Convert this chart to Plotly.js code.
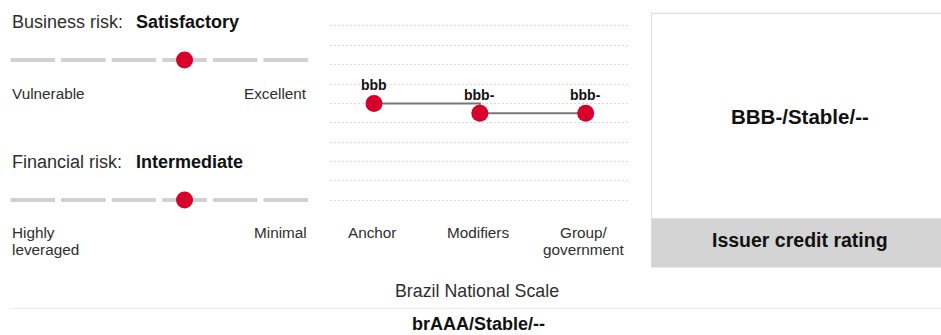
<!DOCTYPE html>
<html>
<head>
<meta charset="utf-8">
<script src="https://cdn.plot.ly/plotly-3.0.1.min.js"></script>
<style>
  html, body { margin: 0; padding: 0; background: #ffffff; }
  #chart { width: 941px; height: 335px; }
</style>
</head>
<body>
<div id="chart"></div>
<script>
// Assessment scales (low to high) and the assessed positions
const businessScale = ['Vulnerable', 'Weak', 'Fair', 'Satisfactory', 'Strong', 'Excellent'];
const businessRisk = 'Satisfactory';
const financialScale = ['Highly<br>leveraged', 'Aggressive', 'Significant', 'Intermediate', 'Modest', 'Minimal'];
const financialRisk = 'Intermediate';

// Rating build-up: anchor -> modifiers -> group/government
const steps = ['Anchor', 'Modifiers', 'Group/<br>government'];
const stepRatings = ['bbb', 'bbb-', 'bbb-'];
const stepLevels = [6, 5.5, 5.5];

// Outcome texts
const issuerRating = 'BBB-/Stable/--';
const issuerCaption = 'Issuer credit rating';
const nationalScaleTitle = 'Brazil National Scale';
const nationalRating = 'brAAA/Stable/--';

const W = 941, H = 335;
const X = px => px / W;
const Y = py => 1 - py / H;

const FONT = 'Liberation Sans, Arial, sans-serif';
const RED = '#d6002b';
const TRACK = '#d1d1d4';
const TXT = '#2e2e2e';
const BOLD = '#111111';

function label(text, px, py, opts) {
  return Object.assign({
    text: text, xref: 'paper', yref: 'paper', x: X(px), y: Y(py),
    xanchor: 'left', yanchor: 'middle', showarrow: false,
    font: { family: FONT, size: 15, color: TXT }
  }, opts || {});
}

// Multi-line label placed one annotation per line
function lines(text, xref, x, firstPy, lineGap, opts) {
  return text.split('<br>').map((t, i) => Object.assign({
    text: t, xref: xref, yref: 'paper', x: x, y: Y(firstPy + i * lineGap),
    yanchor: 'middle', showarrow: false,
    font: { family: FONT, size: 15.3, color: TXT }
  }, opts || {}));
}

// Dashed track segments, one per scale step
function track(scale, xref, yref) {
  return scale.map((_, i) => ({
    type: 'line', xref: xref, yref: yref, layer: 'below',
    x0: i - 0.44, x1: i + 0.44, y0: 0.5, y1: 0.5,
    line: { color: TRACK, width: 4 }
  }));
}

const traces = [
  {
    x: [businessRisk], y: [0.5], xaxis: 'x', yaxis: 'y',
    type: 'scatter', mode: 'markers',
    marker: { color: RED, size: 17, line: { width: 0 } }
  },
  {
    x: [financialRisk], y: [0.5], xaxis: 'x2', yaxis: 'y2',
    type: 'scatter', mode: 'markers',
    marker: { color: RED, size: 17, line: { width: 0 } }
  },
  {
    x: steps, y: stepLevels, xaxis: 'x3', yaxis: 'y3',
    type: 'scatter', mode: 'lines+markers',
    line: { color: '#777777', width: 2, shape: 'hv' },
    marker: { color: RED, size: 17, line: { width: 0 } },
    cliponaxis: false
  }
];

const hidden = { visible: false, fixedrange: true };

const shapes = []
  .concat(track(businessScale, 'x', 'y'))
  .concat(track(financialScale, 'x2', 'y2'))
  .concat([
    // Issuer credit rating panel
    { type: 'rect', xref: 'paper', yref: 'paper', layer: 'below',
      x0: X(651.5), x1: X(945), y0: Y(267), y1: Y(13.3),
      line: { color: '#e0e0e0', width: 1.2 }, fillcolor: '#ffffff' },
    { type: 'rect', xref: 'paper', yref: 'paper', layer: 'below',
      x0: X(651.5), x1: X(945), y0: Y(267.3), y1: Y(218.3),
      line: { width: 0 }, fillcolor: '#d4d4d4' },
    // Separator above the national scale rating
    { type: 'line', xref: 'paper', yref: 'paper',
      x0: X(10), x1: X(941), y0: Y(308.3), y1: Y(308.3),
      line: { color: '#e8e8e8', width: 1 } }
  ]);

// Rating labels above each step marker
const ratingLabels = steps.map((s, i) => ({
  text: stepRatings[i], xref: 'x3', yref: 'y3', x: s, y: stepLevels[i],
  xanchor: 'center', yanchor: 'middle', yshift: 18.2, showarrow: false,
  font: { family: FONT, size: 14, color: BOLD, weight: 700 }
}));

const annotations = [
  label('Business risk:', 10, 21.8, { font: { family: FONT, size: 18, color: TXT } }),
  label(businessRisk, 134, 21.8, { font: { family: FONT, size: 18, color: BOLD, weight: 700 } }),
  label(businessScale[0], 10, 93, { font: { family: FONT, size: 15.3, color: TXT } }),
  label(businessScale[businessScale.length - 1], 308.5, 93, { xanchor: 'right', font: { family: FONT, size: 15.3, color: TXT } }),

  label('Financial risk:', 10, 162, { font: { family: FONT, size: 18, color: TXT } }),
  label(financialRisk, 134, 162, { font: { family: FONT, size: 18, color: BOLD, weight: 700 } }),
  label(financialScale[financialScale.length - 1], 308.5, 232, { xanchor: 'right', font: { family: FONT, size: 15.3, color: TXT } })
]
  .concat(lines(financialScale[0], 'paper', X(10), 232, 17, { xanchor: 'left' }))
  .concat(steps.flatMap(s => lines(s, 'x3', s, 232, 17, { xanchor: 'center', xshift: -2 })))
  .concat(ratingLabels)
  .concat([
    label(issuerRating, 800, 116.2, { xanchor: 'center', font: { family: FONT, size: 20.5, color: BOLD, weight: 700 } }),
    label(issuerCaption, 799.5, 240.3, { xanchor: 'center', font: { family: FONT, size: 19.5, color: BOLD, weight: 700 } }),
    label(nationalScaleTitle, 476.5, 290.6, { xanchor: 'center', font: { family: FONT, size: 17.8, color: TXT } }),
    label(nationalRating, 478, 323.8, { xanchor: 'center', font: { family: FONT, size: 18, color: BOLD, weight: 700 } })
  ]);

const layout = {
  width: W, height: H,
  margin: { l: 0, r: 0, t: 0, b: 0, pad: 0 },
  paper_bgcolor: '#ffffff', plot_bgcolor: 'rgba(0,0,0,0)',
  showlegend: false,
  font: { family: FONT, color: TXT },

  xaxis: Object.assign({ type: 'category', categoryarray: businessScale, categoryorder: 'array',
    domain: [X(10), X(308.5)], range: [-0.45, 5.45], anchor: 'y' }, hidden),
  yaxis: Object.assign({ domain: [Y(70), Y(50)], range: [0, 1], anchor: 'x' }, hidden),

  xaxis2: Object.assign({ type: 'category', categoryarray: financialScale, categoryorder: 'array',
    domain: [X(10), X(308.5)], range: [-0.45, 5.45], anchor: 'y2' }, hidden),
  yaxis2: Object.assign({ domain: [Y(210), Y(190)], range: [0, 1], anchor: 'x2' }, hidden),

  xaxis3: {
    type: 'category', categoryarray: steps, categoryorder: 'array',
    domain: [X(330), X(628)], range: [-0.4157, 2.3997], anchor: 'y3',
    showgrid: false, zeroline: false, showline: false, showticklabels: false, ticks: '',
    fixedrange: true
  },
  yaxis3: {
    domain: [Y(210), Y(16.3)], range: [0.5, 10.5], anchor: 'x3',
    tick0: 0, dtick: 1, showgrid: true, gridcolor: '#d9d9d9', griddash: '2px,2px', gridwidth: 1,
    zeroline: false, showline: false, showticklabels: false, ticks: '',
    fixedrange: true
  },

  shapes: shapes,
  annotations: annotations
};

Plotly.newPlot('chart', traces, layout, { staticPlot: true, displayModeBar: false });
</script>
</body>
</html>
